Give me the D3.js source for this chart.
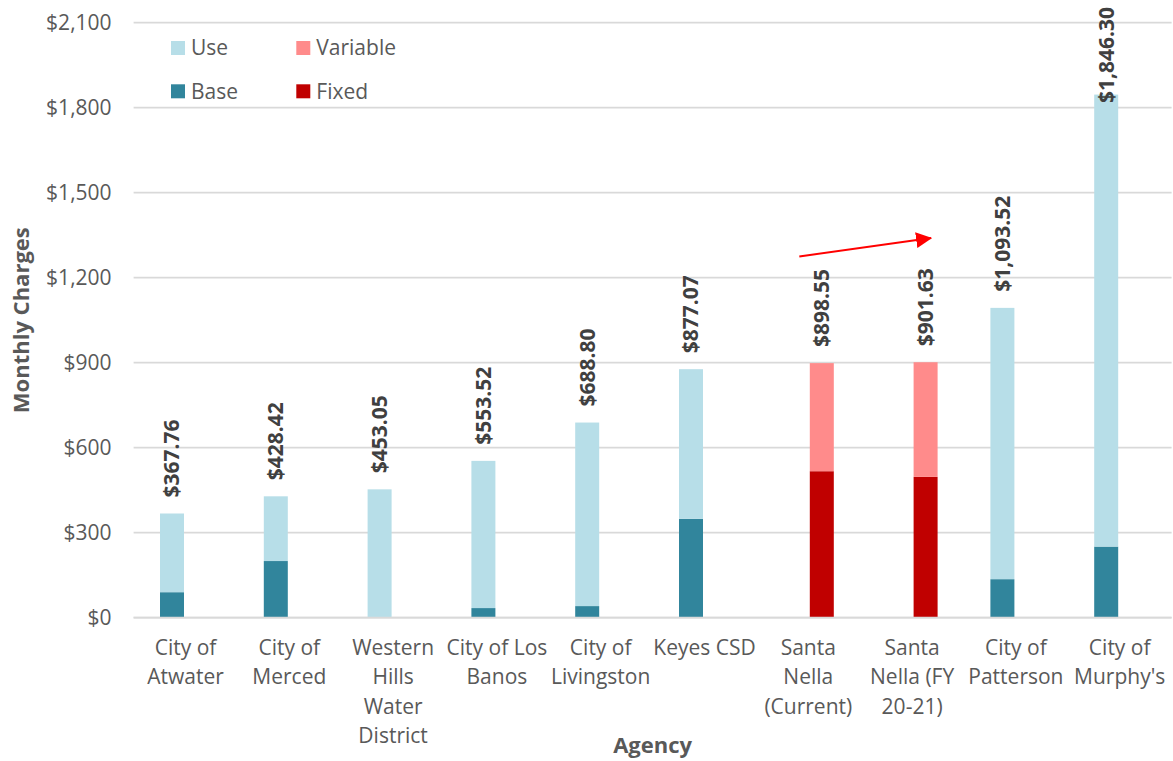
<!DOCTYPE html>
<html>
<head>
<meta charset="utf-8">
<script src="https://cdn.jsdelivr.net/npm/d3@7"></script>
<style>
    body { margin: 0; background: #fff; }
    text { font-family: "Open Sans", sans-serif; }
</style>
</head>
<body>
<div id="chart"></div>
<script>
'use strict'

////////////////////////////////////
//////////// data //////////////////
////////////////////////////////////

const agencies = ["City of Atwater", "City of Merced", "Western Hills Water District", "City of Los Banos",
    "City of Livingston", "Keyes CSD", "Santa Nella (Current)", "Santa Nella (FY 20-21)",
    "City of Patterson", "City of Murphy's"]

// how Excel wrapped the category names under the axis
const agencyLines = [["City of", "Atwater"], ["City of", "Merced"], ["Western", "Hills", "Water", "District"],
    ["City of Los", "Banos"], ["City of", "Livingston"], ["Keyes CSD"], ["Santa", "Nella", "(Current)"],
    ["Santa", "Nella (FY", "20-21)"], ["City of", "Patterson"], ["City of", "Murphy's"]]

const totals       = [367.76, 428.42, 453.05, 553.52, 688.80, 877.07, 898.55, 901.63, 1093.52, 1846.30]
const baseVals     = [90, 200, 0, 34, 41, 349, 0, 0, 136, 251]
const useVals      = [277.76, 228.42, 453.05, 519.52, 647.80, 528.07, 0, 0, 957.52, 1595.30]
const fixedVals    = [0, 0, 0, 0, 0, 0, 517, 497, 0, 0]
const variableVals = [0, 0, 0, 0, 0, 0, 381.55, 404.63, 0, 0]

const yTicks = [0, 300, 600, 900, 1200, 1500, 1800, 2100]

// red arrow between the two Santa Nella bars (agency, value, offset from band centre)
const arrowFrom = { agency: "Santa Nella (Current)", value: 1275, dx: -9 }
const arrowTo   = { agency: "Santa Nella (FY 20-21)", value: 1340, dx: 19 }

////////////////////////////////////
//////////// svg setup /////////////
////////////////////////////////////

const svgWidth = 1173
const svgHeight = 761
const margin = { left: 133.6, right: 1.4, top: 22.7, bottom: 143.3 }
const width = svgWidth - margin.left - margin.right
const height = svgHeight - margin.top - margin.bottom

const svg = d3.select('#chart')
    .append('svg')
    .attr('width', svgWidth)
    .attr('height', svgHeight)

const g = svg.append('g')
    .attr('transform', `translate(${margin.left},${margin.top})`)

const colors = { Use: '#B7DEE8', Base: '#31859C', Variable: '#FF8B8B', Fixed: '#C00000' }

const rows = agencies.map((a, i) => ({
    agency: a,
    Base: baseVals[i],
    Use: useVals[i],
    Fixed: fixedVals[i],
    Variable: variableVals[i],
    total: totals[i],
    group: fixedVals[i] > 0 ? 'santa' : 'main'
}))

////////////////////////////////////
//////////// scales ////////////////
////////////////////////////////////

const x0 = d3.scaleBand()
    .domain(agencies)
    .range([0, width])

// two slots per agency, like an Excel clustered chart
const x1 = d3.scaleBand()
    .domain(['main', 'santa'])
    .range([x0.bandwidth() / 2 - 25.5, x0.bandwidth() / 2 + 25.5])
    .paddingInner(1 / 9)

const y = d3.scaleLinear()
    .domain([0, 2100])
    .range([height, 0])

////////////////////////////////////
//////////// grid + axes ///////////
////////////////////////////////////

g.append('g')
    .selectAll('line')
    .data(yTicks)
    .join('line')
    .attr('x1', 0)
    .attr('x2', width)
    .attr('y1', d => y(d))
    .attr('y2', d => y(d))
    .style('stroke', '#D9D9D9')
    .style('stroke-width', '1.8px')

g.append('g')
    .selectAll('text')
    .data(yTicks)
    .join('text')
    .attr('x', -22)
    .attr('y', d => y(d))
    .attr('dy', '0.35em')
    .attr('text-anchor', 'end')
    .style('font-size', '21px')
    .style('fill', '#595959')
    .text(d => '$' + d3.format(',')(d))

const catLabels = g.append('g')
    .selectAll('text')
    .data(rows)
    .join('text')
    .attr('text-anchor', 'middle')
    .style('font-size', '21px')
    .style('fill', '#595959')
    .attr('transform', d => `translate(${x0(d.agency) + x0.bandwidth() / 2},${height + 37})`)

catLabels.selectAll('tspan')
    .data((d, i) => agencyLines[i])
    .join('tspan')
    .attr('x', 0)
    .attr('y', (d, i) => i * 29.5)
    .text(d => d)

// axis titles
svg.append('text')
    .attr('x', margin.left + width / 2)
    .attr('y', 753)
    .attr('text-anchor', 'middle')
    .style('font-size', '22px')
    .style('font-weight', 'bold')
    .style('fill', '#595959')
    .text('Agency')

svg.append('text')
    .attr('transform', `translate(29,${margin.top + height / 2}) rotate(-90)`)
    .attr('text-anchor', 'middle')
    .style('font-size', '22px')
    .style('font-weight', 'bold')
    .style('fill', '#595959')
    .text('Monthly Charges')

////////////////////////////////////
//////////// bars //////////////////
////////////////////////////////////

const stacks = [
    { group: 'main', series: d3.stack().keys(['Base', 'Use'])(rows) },
    { group: 'santa', series: d3.stack().keys(['Fixed', 'Variable'])(rows) }
]

stacks.forEach(s => {
    g.append('g')
        .selectAll('g')
        .data(s.series)
        .join('g')
        .style('fill', d => colors[d.key])
        .selectAll('rect')
        .data(d => d.filter(p => p[1] - p[0] > 0))
        .join('rect')
        .attr('x', d => x0(d.data.agency) + x1(s.group))
        .attr('width', x1.bandwidth())
        .attr('y', d => y(d[1]))
        .attr('height', d => y(d[0]) - y(d[1]))
})

// baseline on top of the bars
g.append('line')
    .attr('x1', 0)
    .attr('x2', width)
    .attr('y1', y(0))
    .attr('y2', y(0))
    .style('stroke', '#D9D9D9')
    .style('stroke-width', '1.8px')

// data labels (rotated, outside end, kept inside the chart)
g.append('g')
    .selectAll('text')
    .data(rows)
    .join('text')
    .attr('text-anchor', 'start')
    .attr('dy', '0.35em')
    .style('font-size', '21px')
    .style('font-weight', 'bold')
    .style('fill', '#404040')
    .text(d => '$' + d3.format(',.2f')(d.total))
    .each(function (d) {
        const len = this.getComputedTextLength()
        const cx = x0(d.agency) + x1(d.group) + x1.bandwidth() / 2
        const ly = Math.max(y(d.total) - 16, len - margin.top + 7)
        d3.select(this).attr('transform', `translate(${cx},${ly}) rotate(-90)`)
    })

////////////////////////////////////
//////////// arrow /////////////////
////////////////////////////////////

svg.append('defs')
    .append('marker')
    .attr('id', 'head')
    .attr('markerUnits', 'userSpaceOnUse')
    .attr('viewBox', '0 0 16 16')
    .attr('refX', 15)
    .attr('refY', 8)
    .attr('markerWidth', 16)
    .attr('markerHeight', 16)
    .attr('orient', 'auto')
    .append('path')
    .attr('d', 'M0,0 L16,8 L0,16 Z')
    .style('fill', '#FF0000')

g.append('line')
    .attr('x1', x0(arrowFrom.agency) + x0.bandwidth() / 2 + arrowFrom.dx)
    .attr('y1', y(arrowFrom.value))
    .attr('x2', x0(arrowTo.agency) + x0.bandwidth() / 2 + arrowTo.dx)
    .attr('y2', y(arrowTo.value))
    .style('stroke', '#FF0000')
    .style('stroke-width', '2px')
    .attr('marker-end', 'url(#head)')

////////////////////////////////////
//////////// legend ////////////////
////////////////////////////////////

const legendItems = ['Use', 'Variable', 'Base', 'Fixed']

const legend = svg.append('g')
    .attr('transform', 'translate(171,41)')
    .selectAll('g')
    .data(legendItems)
    .join('g')
    .attr('transform', (d, i) => `translate(${(i % 2) * 125.3},${Math.floor(i / 2) * 43.3})`)

legend.append('rect')
    .attr('width', 14)
    .attr('height', 14)
    .style('fill', d => colors[d])

legend.append('text')
    .attr('x', 20)
    .attr('y', 7)
    .attr('dy', '0.35em')
    .style('font-size', '21px')
    .style('fill', '#595959')
    .text(d => d)
</script>
</body>
</html>
